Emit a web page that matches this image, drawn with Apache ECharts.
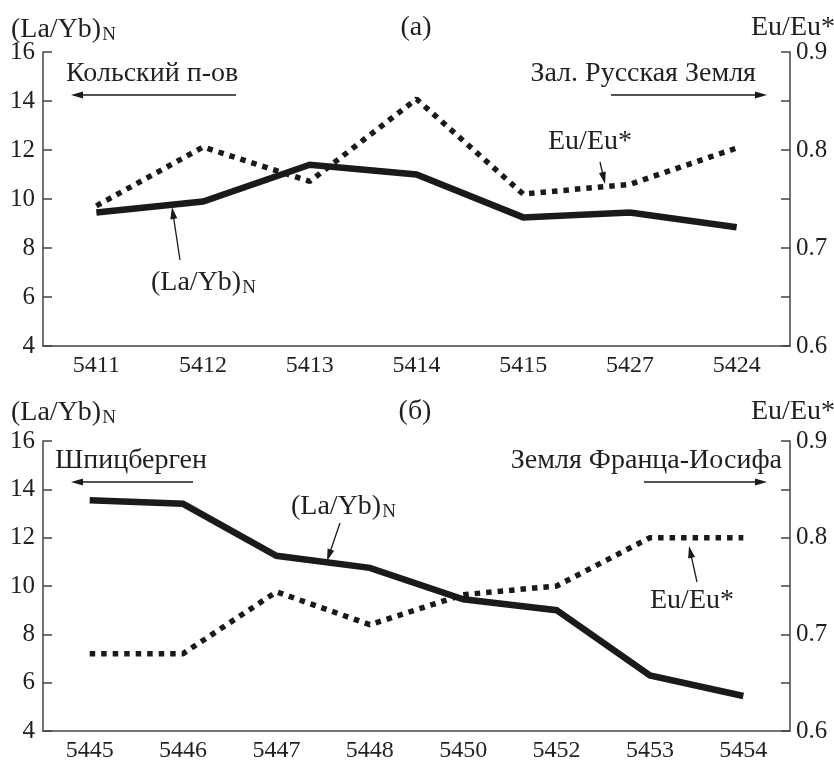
<!DOCTYPE html>
<html><head><meta charset="utf-8">
<script src="https://cdn.jsdelivr.net/npm/echarts@6/dist/echarts.min.js"></script>
<style>html,body{margin:0;padding:0;background:#fff}#c{width:834px;height:763px}</style>
</head><body><div id="c"></div>
<script>
var catsA = ['5411','5412','5413','5414','5415','5427','5424'];
var laybA = [9.45, 9.9, 11.4, 11.0, 9.25, 9.45, 8.85];
var euA   = [0.743, 0.803, 0.768, 0.852, 0.755, 0.765, 0.802];
var catsB = ['5445','5446','5447','5448','5450','5452','5453','5454'];
var laybB = [13.55, 13.4, 11.25, 10.75, 9.45, 9.0, 6.3, 5.45];
var euB   = [0.68, 0.68, 0.744, 0.71, 0.741, 0.75, 0.8, 0.8];
var leftTicks = {min: 4, max: 16, interval: 2};
var rightTicks = {min: 0.6, max: 0.9, interval: 0.05};

var FONT = 'Liberation Serif';
var FS = 24;   // tick labels
var FA = 28;   // annotations / axis names
var TXT = '#231f20';
var AX = '#444';

var chart = echarts.init(document.getElementById('c'), null, {renderer: 'canvas'});

function xAxis(idx, cats) {
  return {
    type: 'category', gridIndex: idx, data: cats, boundaryGap: true,
    axisLine: {lineStyle: {color: AX, width: 1.5}},
    axisTick: {alignWithLabel: true, inside: true, length: 9, lineStyle: {color: AX, width: 1.5}},
    axisLabel: {color: TXT, fontFamily: FONT, fontSize: FS, margin: 8},
    splitLine: {show: false}
  };
}
function yLeft(idx) {
  return {
    type: 'value', gridIndex: idx, position: 'left', min: leftTicks.min, max: leftTicks.max, interval: leftTicks.interval,
    axisLine: {show: true, lineStyle: {color: AX, width: 1.5}},
    axisTick: {show: true, inside: true, length: 9, lineStyle: {color: AX, width: 1.5}},
    axisLabel: {color: TXT, fontFamily: FONT, fontSize: FS + 1, margin: 8},
    splitLine: {show: false}
  };
}
function yRight(idx) {
  return {
    type: 'value', gridIndex: idx, position: 'right', min: rightTicks.min, max: rightTicks.max, interval: rightTicks.interval,
    axisLine: {show: true, lineStyle: {color: AX, width: 1.5}},
    axisTick: {show: true, inside: true, length: 9, lineStyle: {color: AX, width: 1.5}},
    axisLabel: {color: TXT, fontFamily: FONT, fontSize: FS + 1, margin: 6,
      formatter: function (v) { var t = v * 10; return Math.abs(Math.round(t) - t) < 1e-6 ? v.toFixed(1) : ''; }},
    splitLine: {show: false}
  };
}
function solid(xi, yi, data) {
  return {type: 'line', xAxisIndex: xi, yAxisIndex: yi, data: data, symbol: 'none', silent: true,
    lineStyle: {color: '#1a1a1a', width: 6.5, cap: 'butt', join: 'miter'}};
}
function dotted(xi, yi, data) {
  return {type: 'line', xAxisIndex: xi, yAxisIndex: yi, data: data, symbol: 'none', silent: true,
    lineStyle: {color: '#1a1a1a', width: 5.5, type: [5.5, 6], cap: 'butt'}};
}

function txt(x, y, s, align) {
  return {type: 'text', x: x, y: y, style: {text: s, fill: TXT, font: FA + 'px "' + FONT + '"',
    textAlign: align || 'left', textVerticalAlign: 'middle'}};
}
function labN(x, y) {
  return {type: 'text', x: x, y: y, style: {
    text: '{a|(La/Yb)}{n|N}', textAlign: 'left', textVerticalAlign: 'middle',
    rich: {
      a: {fontFamily: FONT, fontSize: FA, fill: TXT, lineHeight: 30, verticalAlign: 'middle'},
      n: {fontFamily: FONT, fontSize: 19, fill: TXT, lineHeight: 30, verticalAlign: 'bottom', padding: [10, 0, 0, 1]}
    }}};
}
function arrow(x1, y1, x2, y2) {
  var dx = x2 - x1, dy = y2 - y1, L = Math.sqrt(dx * dx + dy * dy);
  var ux = dx / L, uy = dy / L, px = -uy, py = ux;
  var hl = 12, hw = 3.5;
  var bx = x2 - ux * hl, by = y2 - uy * hl;
  return {type: 'group', children: [
    {type: 'line', shape: {x1: x1, y1: y1, x2: x2 - ux * 5, y2: y2 - uy * 5}, style: {stroke: '#1a1a1a', lineWidth: 1.3}},
    {type: 'polygon', shape: {points: [[x2, y2], [bx + px * hw, by + py * hw], [bx - px * hw, by - py * hw]]}, style: {fill: '#1a1a1a'}}
  ]};
}

var option = {
  animation: false,
  backgroundColor: '#fff',
  grid: [
    {left: 43, right: 44, top: 52, height: 294},
    {left: 43, right: 44, top: 441, height: 292}
  ],
  xAxis: [xAxis(0, catsA), xAxis(1, catsB)],
  yAxis: [yLeft(0), yRight(0), yLeft(1), yRight(1)],
  series: [
    dotted(0, 1, euA), solid(0, 0, laybA),
    dotted(1, 3, euB), solid(1, 2, laybB)
  ],
  graphic: [
    labN(11, 30), txt(416, 28, '(а)', 'center'), txt(835, 28, 'Eu/Eu*', 'right'),
    txt(66, 74, 'Кольский п-ов', 'left'), arrow(236, 95, 71, 95),
    txt(756, 74, 'Зал. Русская Земля', 'right'), arrow(611, 95, 767, 95),
    txt(590, 142, 'Eu/Eu*', 'center'), arrow(600, 162, 605, 184),
    labN(151, 283), arrow(180, 260, 172, 207),

    labN(11, 413), txt(415, 412, '(б)', 'center'), txt(835, 412, 'Eu/Eu*', 'right'),
    txt(55, 461, 'Шпицберген', 'left'), arrow(193, 482, 71, 482),
    txt(782, 461, 'Земля Франца-Иосифа', 'right'), arrow(644, 482, 767, 482),
    labN(291, 507), arrow(340, 523, 327, 561),
    txt(692, 601, 'Eu/Eu*', 'center'), arrow(697, 582, 689, 546)
  ]
};
chart.setOption(option);
</script>
</body></html>
